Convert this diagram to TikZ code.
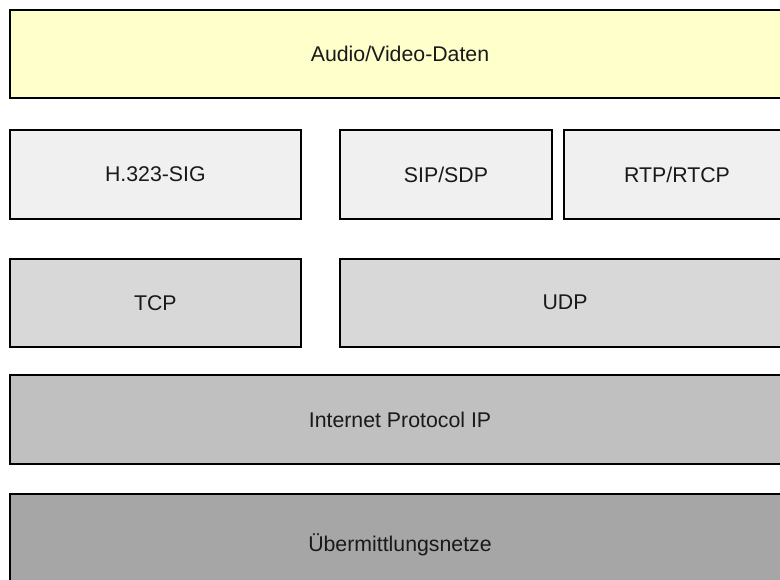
\documentclass[tikz,border=0pt]{standalone}
\usepackage{fontspec}
\setmainfont{Liberation Sans}
\definecolor{cAV}{HTML}{FFFFCC}
\definecolor{cSig}{HTML}{F0F0F0}
\definecolor{cTr}{HTML}{D8D8D8}
\definecolor{cIP}{HTML}{C0C0C0}
\definecolor{cNet}{HTML}{A6A6A6}
\begin{document}
\begin{tikzpicture}[x=1pt,y=-1pt,
  layer/.style={draw=black, line width=1.8pt, inner sep=0pt, outer sep=0pt,
    anchor=north west, font=\fontsize{21.3}{25}\selectfont, text=black!90}]
\useasboundingbox (0,0) rectangle (780,579);
\clip (0,0) rectangle (780,579);
\node[layer, fill=cAV, minimum width=780pt, minimum height=88pt] (av) at (10,10) {Audio/Video-Daten};
\node[layer, fill=cSig, minimum width=290.7pt, minimum height=89pt] (h323) at (10,130) {H.323-SIG};
\node[layer, fill=cSig, minimum width=212pt, minimum height=89pt] (sip) at (340,130) {SIP/SDP};
\node[layer, fill=cSig, minimum width=226pt, minimum height=89pt] (rtp) at (564,130) {RTP/RTCP};
\node[layer, fill=cTr, minimum width=290.7pt, minimum height=88pt] (tcp) at (10,258.7) {TCP};
\node[layer, fill=cTr, minimum width=450pt, minimum height=88pt] (udp) at (340,258.7) {UDP};
\node[layer, fill=cIP, minimum width=780pt, minimum height=88.7pt] (ip) at (10,375.3) {Internet Protocol IP};
\node[layer, fill=cNet, minimum width=780pt, minimum height=106pt] (net) at (10,494) {\raisebox{9pt}{Übermittlungsnetze}};
\end{tikzpicture}
\end{document}
